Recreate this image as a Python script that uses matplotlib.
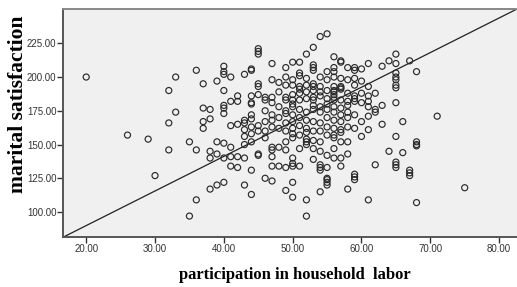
import matplotlib
matplotlib.use("Agg")
import matplotlib.pyplot as plt
import numpy as np

# participation value -> list of marital satisfaction values observed at it
x_values = [20, 26, 29, 30, 32, 33, 35, 36, 37, 38, 39, 40, 41, 42, 43, 44, 45, 46,
            47, 48, 49, 50, 51, 52, 53, 54, 55, 56, 57, 58, 59, 60, 61, 62, 63, 64,
            65, 66, 67, 68, 71, 75]
y_groups = [
    [200],
    [157],
    [154],
    [127],
    [190, 166, 146],
    [200, 174],
    [152, 97],
    [205, 146, 109],
    [195, 177, 167, 162],
    [176, 169, 145, 140, 117],
    [197, 152, 143, 120],
    [208, 204, 202, 190, 179, 177, 173, 151, 140, 122],
    [200, 182, 164, 148, 141, 134],
    [186, 182, 165, 141, 133],
    [202, 168, 166, 161, 156, 150, 140, 120],
    [206, 205, 186, 181, 180, 172, 169, 163, 158, 152, 131, 113],
    [221, 219, 217, 195, 193, 187, 164, 160, 143, 142],
    [185, 183, 175, 167, 160, 155, 125],
    [210, 198, 185, 181, 172, 168, 163, 148, 146, 141, 134, 123],
    [196, 189, 178, 170, 162, 148, 134],
    [207, 200, 194, 185, 183, 175, 173, 166, 160, 152, 146, 133, 116],
    [211, 198, 194, 187, 183, 180, 178, 172, 167, 162, 158, 155, 140, 136, 134, 122, 111],
    [211, 203, 201, 193, 191, 188, 183, 176, 170, 164, 157, 147, 134],
    [217, 199, 194, 189, 184, 174, 168, 162, 159, 154, 152, 150, 109, 97],
    [222, 209, 207, 205, 195, 193, 190, 185, 183, 179, 176, 167, 160, 153, 147, 139],
    [230, 200, 193, 189, 186, 178, 174, 166, 160, 152, 145, 135, 133, 131, 115],
    [232, 204, 198, 190, 184, 180, 176, 170, 163, 157, 142, 133, 125, 124, 122, 120],
    [215, 207, 204, 200, 193, 190, 189, 187, 185, 183, 178, 174, 168, 162, 157, 155, 147, 140],
    [212, 211, 199, 193, 192, 191, 183, 177, 172, 167, 161, 159, 152, 140, 134],
    [207, 198, 188, 182, 179, 174, 170, 163, 152, 143, 117],
    [207, 205, 199, 194, 186, 184, 182, 172, 162, 128, 126, 124],
    [206, 197, 188, 181, 167, 156],
    [210, 193, 186, 182, 178, 171, 161, 109],
    [188, 176, 174, 135],
    [208, 179, 165],
    [212, 145],
    [217, 210, 203, 200, 198, 194, 192, 181, 156, 137, 135, 133],
    [167, 144],
    [212, 131, 129, 127],
    [204, 152, 150, 149, 107],
    [171],
    [118],
]
fit_intercept = 38.7
fit_slope = 2.563

x_ticks = [20, 30, 40, 50, 60, 70, 80]
y_ticks = [100, 125, 150, 175, 200, 225]
x_label = "participation in household  labor"
y_label = "marital satisfaction"

xs = np.concatenate([[xv] * len(g) for xv, g in zip(x_values, y_groups)])
ys = np.concatenate([g for g in y_groups])

W, H = 517, 287
fig = plt.figure(figsize=(W / 100, H / 100), dpi=100)
left, right, top, bottom = 63.5, 517, 9, 237
ax = fig.add_axes([left / W, 1 - bottom / H, (right - left) / W, (bottom - top) / H])
ax.set_facecolor("#F0F0F0")

xlim = (16.7, 82.6)
ylim = (81.5, 250.4)
ax.set_xlim(*xlim)
ax.set_ylim(*ylim)

ax.scatter(xs, ys, s=19, facecolors="none", edgecolors="#2a2a2a", linewidths=0.85, zorder=3)
lx = np.array(xlim)
ax.plot(lx, fit_intercept + fit_slope * lx, color="#222222", lw=0.9, zorder=2)

for s in ["left", "bottom"]:
    ax.spines[s].set_color("#555555")
    ax.spines[s].set_linewidth(1.4)
ax.spines["top"].set_color("#888888")
ax.spines["top"].set_linewidth(1.4)
ax.spines["right"].set_visible(False)

ax.set_xticks(x_ticks)
ax.set_yticks(y_ticks)
ax.set_xticklabels([f"{v:.2f}" for v in x_ticks])
ax.set_yticklabels([f"{v:.2f}" for v in y_ticks])
ax.tick_params(axis="both", direction="out", length=4, width=1, color="#333333",
               labelsize=7, labelcolor="#333333", pad=1)
for lab in ax.get_xticklabels() + ax.get_yticklabels():
    lab.set_family("Liberation Sans")

fig.text(294.5 / W, 1 - 275 / H, x_label, ha="center", va="center",
         family="Liberation Serif", fontweight="bold", fontsize=12)
fig.text(18 / W, 1 - 104 / H, y_label, ha="center", va="center", rotation=90,
         family="Liberation Serif", fontweight="bold", fontsize=15.5)

fig.savefig("out.png", dpi=100)
